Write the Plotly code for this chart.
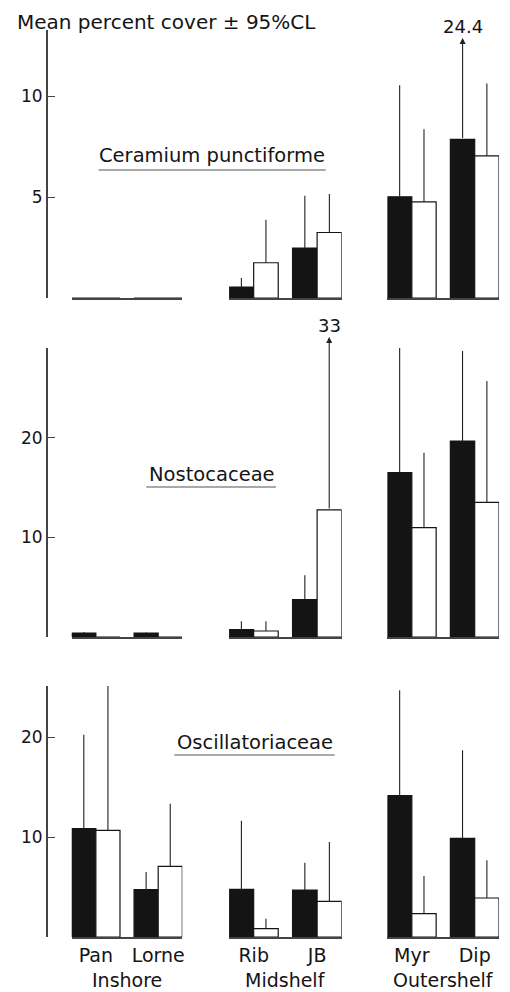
import plotly.graph_objects as go

# ---------------- data ----------------
sites = ["Pan", "Lorne", "Rib", "JB", "Myr", "Dip"]
regions = ["Inshore", "Midshelf", "Outershelf"]
species = ["Ceramium punctiforme", "Nostocaceae", "Oscillatoriaceae"]

cer_dark_mean = [0.0, 0.0, 0.54, 2.48, 5.02, 7.87]
cer_dark_upper = [0.0, 0.0, 0.99, 5.08, 10.56, 24.4]
cer_light_mean = [0.0, 0.0, 1.75, 3.25, 4.77, 7.05]
cer_light_upper = [0.0, 0.0, 3.88, 5.16, 8.37, 10.64]

nos_dark_mean = [0.4, 0.4, 0.74, 3.76, 16.5, 19.66]
nos_dark_upper = [0.5, 0.45, 1.58, 6.2, 29.4, 28.7]
nos_light_mean = [0.0, 0.0, 0.6, 12.75, 10.97, 13.5]
nos_light_upper = [0.0, 0.0, 1.58, 33.0, 18.5, 25.7]

osc_dark_mean = [10.83, 4.73, 4.77, 4.7, 14.13, 9.87]
osc_dark_upper = [20.23, 6.5, 11.63, 7.43, 24.67, 18.67]
osc_light_mean = [10.67, 7.07, 0.83, 3.57, 2.33, 3.9]
osc_light_upper = [25.1, 13.33, 1.83, 9.5, 6.1, 7.67]

y_max = [13.3, 29.0, 25.1]
y_ticks = [[0, 5, 10], [0, 10, 20], [0, 10, 20]]

panels = [
    (cer_dark_mean, cer_dark_upper, cer_light_mean, cer_light_upper),
    (nos_dark_mean, nos_dark_upper, nos_light_mean, nos_light_upper),
    (osc_dark_mean, osc_dark_upper, osc_light_mean, osc_light_upper),
]

# ---------------- layout geometry (screen pixels) ----------------
PAGE_W, PAGE_H = 510, 992
OFF = 8  # default body margin of the page
W, H = PAGE_W - OFF, PAGE_H - OFF
COL_PX = [(72, 183), (230, 343), (389, 501)]
ROW_PX = [(30, 298), (348, 637), (686, 937)]
YAXIS_X = 47
BARGAP = 0.226
FONT = "DejaVu Sans"
INK = "#141414"
AXC = "#444444"


def pxx(x):
    return (x - OFF) / W


def pxy(y):
    return 1 - (y - OFF) / H


def val_px(row, v):
    top, bot = ROW_PX[row]
    return bot - v * (bot - top) / y_max[row]


fig = go.Figure()
layout = dict(
    width=W, height=H, margin=dict(l=0, r=0, t=0, b=0),
    paper_bgcolor="white", plot_bgcolor="white",
    showlegend=False, barmode="group", bargap=BARGAP, bargroupgap=0,
    font=dict(family=FONT, color=INK, size=19),
)
annotations = []
shapes = []

col_w = (COL_PX[0][1] - COL_PX[0][0]) / (2 - BARGAP)
bar_w = col_w * (1 - BARGAP) / 2

for r in range(3):
    dm, du, lm, lu = panels[r]
    for c in range(3):
        i = r * 3 + c + 1
        xa = f"x{i}"
        ya = f"y{i}"
        sl = slice(2 * c, 2 * c + 2)
        cats = sites[sl]
        for mean, upper, fill in ((dm, du, INK), (lm, lu, "white")):
            m = mean[sl]
            u = upper[sl]
            err = []
            for k in range(2):
                e = u[k] - m[k]
                if u[k] > 1.05 * y_max[r]:
                    e = 0  # drawn as an arrow below
                err.append(max(e, 0))
            fig.add_trace(go.Bar(
                x=cats, y=m, xaxis=xa, yaxis=ya,
                marker=dict(color=fill, line=dict(color=INK, width=1.2)),
                error_y=dict(type="data", symmetric=False, array=err,
                             arrayminus=[0, 0], width=0, thickness=1.1,
                             color="#222222"),
            ))
            # off-scale arrows
            for k in range(2):
                if u[k] > 1.05 * y_max[r]:
                    top_px = ROW_PX[r][0]
                    tip_px = top_px + (8 if r == 0 else -11)
                    base_px = val_px(r, m[k])
                    shift = -bar_w / 2 if fill == INK else bar_w / 2
                    annotations.append(dict(
                        x=cats[k], xref=xa, xshift=shift,
                        y=pxy(tip_px), yref="paper",
                        ax=0, ay=base_px - tip_px, axref="pixel", ayref="pixel",
                        text="", showarrow=True, arrowhead=2, arrowsize=1.1,
                        arrowwidth=1.1, arrowcolor="#222222",
                        standoff=0, startstandoff=0,
                    ))
                    annotations.append(dict(
                        x=cats[k], xref=xa, xshift=shift,
                        y=pxy(tip_px - 12), yref="paper", yanchor="middle",
                        text="%g" % u[k], showarrow=False, font=dict(size=18),
                    ))
        layout[f"xaxis{i}"] = dict(
            domain=[pxx(COL_PX[c][0]), pxx(COL_PX[c][1])], anchor=ya,
            type="category", range=[-0.5 + BARGAP / 2, 1.5 - BARGAP / 2],
            showline=True, linecolor=AXC, linewidth=1.5, ticks="",
            showgrid=False, zeroline=False, fixedrange=True,
            showticklabels=(r == 2), tickfont=dict(size=19, family=FONT),
        )
        yd = [pxy(ROW_PX[r][1]), pxy(ROW_PX[r][0])]
        if c == 0:
            layout[f"yaxis{i}"] = dict(
                domain=yd, anchor="free", position=pxx(YAXIS_X),
                range=[0, y_max[r]], showline=True, linecolor=AXC,
                linewidth=1.5, ticks="inside", ticklen=7, tickwidth=1.3,
                tickcolor=AXC, tickvals=y_ticks[r],
                ticktext=[""] + [str(t) for t in y_ticks[r][1:]],
                showgrid=False, zeroline=False, fixedrange=True,
                tickfont=dict(size=17, family=FONT),
            )
        else:
            layout[f"yaxis{i}"] = dict(
                domain=yd, anchor=xa, range=[0, y_max[r]], visible=False,
                showgrid=False, zeroline=False, fixedrange=True,
            )

# species labels with underline
SPEC_POS = [(213, 155, 99, 327, 170), (213, 474, 147, 277, 487), (256, 742, 175, 336, 755)]
for r, (cx, cy, ux0, ux1, uy) in enumerate(SPEC_POS):
    annotations.append(dict(x=pxx(cx), y=pxy(cy), xref="paper", yref="paper",
                            text=species[r], showarrow=False, xanchor="center",
                            yanchor="middle", font=dict(size=19.5)))
    shapes.append(dict(type="line", xref="paper", yref="paper",
                       x0=pxx(ux0), x1=pxx(ux1), y0=pxy(uy), y1=pxy(uy),
                       line=dict(color="#555555", width=1.2)))

# region labels
for c, reg in enumerate(regions):
    cx = (COL_PX[c][0] + COL_PX[c][1]) / 2
    annotations.append(dict(x=pxx(cx), y=pxy(980), xref="paper", yref="paper",
                            text=reg, showarrow=False, xanchor="center",
                            yanchor="middle", font=dict(size=19)))

# y-axis title
annotations.append(dict(x=pxx(15), y=1.0, xref="paper", yref="paper",
                        text="Mean percent cover ± 95%CL", showarrow=False,
                        xanchor="left", yanchor="top", font=dict(size=20)))

layout["annotations"] = annotations
layout["shapes"] = shapes
fig.update_layout(**layout)
fig.write_html("out.html")
